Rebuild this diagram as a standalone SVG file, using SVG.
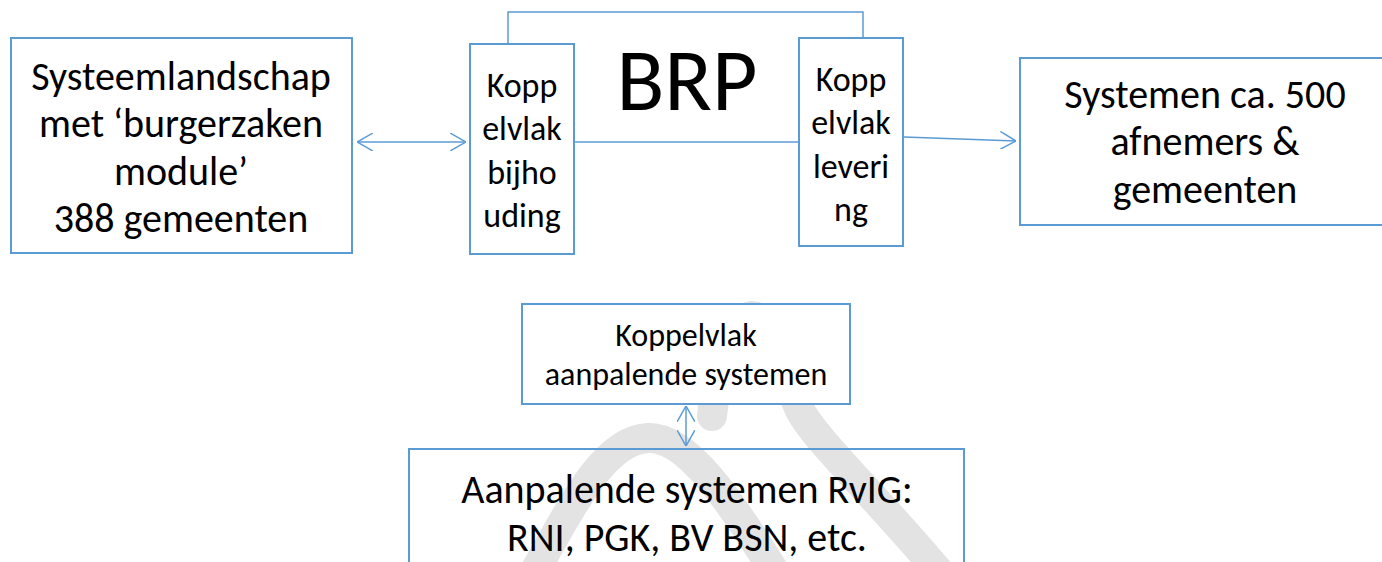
<svg xmlns="http://www.w3.org/2000/svg" width="1382" height="562" viewBox="0 0 1382 562">
<style>
.box{fill:#ffffff;stroke:#5B9BD5;stroke-width:2}
.open{fill:none;stroke:#5B9BD5;stroke-width:2}
.t{font-family:Carlito,"Liberation Sans",sans-serif;fill:#000;text-anchor:middle}
.L{font-size:40px}
.M{font-size:34px}
.S{font-size:32px}
.con{fill:none;stroke:#5B9BD5;stroke-width:1.5}
.wm{fill:none;stroke:#e3e3e3;stroke-width:30;stroke-linecap:round}
</style>
<defs>
<marker id="ah" viewBox="0 0 16 18" refX="16" refY="9" markerWidth="16" markerHeight="18" markerUnits="userSpaceOnUse" orient="auto-start-reverse">
<path d="M0,0 L16,9 L0,18" fill="none" stroke="#5B9BD5" stroke-width="1.5"/>
</marker>
</defs>
<rect width="1382" height="562" fill="#ffffff"/>
<g id="watermark">
<path class="wm" d="M 530 580 C 575 500 605 440 648 438 C 690 436 735 510 780 580"/>
<path class="wm" d="M 712 416 C 718 360 735 318 752 316 C 772 314 785 380 800 410 C 815 440 880 500 950 585"/>
</g>
<g id="connectors">
<polyline class="con" points="508,44 508,12 863,12 863,38"/>
<line class="con" x1="574" y1="142" x2="799" y2="142"/>
<line class="con" x1="357" y1="142" x2="466" y2="142" marker-start="url(#ah)" marker-end="url(#ah)"/>
<line class="con" x1="904" y1="137" x2="1016" y2="141" marker-end="url(#ah)"/>
<line class="con" x1="686" y1="406" x2="686" y2="446" marker-start="url(#ah)" marker-end="url(#ah)"/>
</g>
<g id="n-systeemlandschap">
<rect class="box" x="11" y="38" width="341" height="215"/>
<text class="t L" x="181" y="90">Systeemlandschap</text>
<text class="t L" x="181" y="137">met ‘burgerzaken</text>
<text class="t L" x="181" y="185">module’</text>
<text class="t L" x="181" y="232">388 gemeenten</text>
</g>
<g id="n-brp">
<text class="t" x="687" y="110" style="font-size:88px">BRP</text>
</g>
<g id="n-bijhouding">
<rect class="box" x="470" y="44" width="104" height="210"/>
<text class="t M" x="522" y="97">Kopp</text>
<text class="t M" x="522" y="140">elvlak</text>
<text class="t M" x="522" y="184">bijho</text>
<text class="t M" x="522" y="227">uding</text>
</g>
<g id="n-levering">
<rect class="box" x="799" y="38" width="104" height="208"/>
<text class="t M" x="851" y="91">Kopp</text>
<text class="t M" x="851" y="134">elvlak</text>
<text class="t M" x="851" y="178">leveri</text>
<text class="t M" x="851" y="221">ng</text>
</g>
<g id="n-afnemers">
<rect class="box" x="1020" y="58" width="372" height="167"/>
<text class="t L" x="1205" y="108">Systemen ca. 500</text>
<text class="t L" x="1205" y="155">afnemers &amp;</text>
<text class="t L" x="1205" y="203">gemeenten</text>
</g>
<g id="n-koppelvlak-aanpalend">
<rect class="box" x="522" y="304" width="328" height="100"/>
<text class="t S" x="686" y="346">Koppelvlak</text>
<text class="t S" x="686" y="385">aanpalende systemen</text>
</g>
<g id="n-aanpalend">
<rect class="open" x="409" y="449" width="555" height="130"/>
<text class="t L" x="687" y="503">Aanpalende systemen RvIG:</text>
<text class="t L" x="687" y="551">RNI, PGK, BV BSN, etc.</text>
</g>
</svg>
